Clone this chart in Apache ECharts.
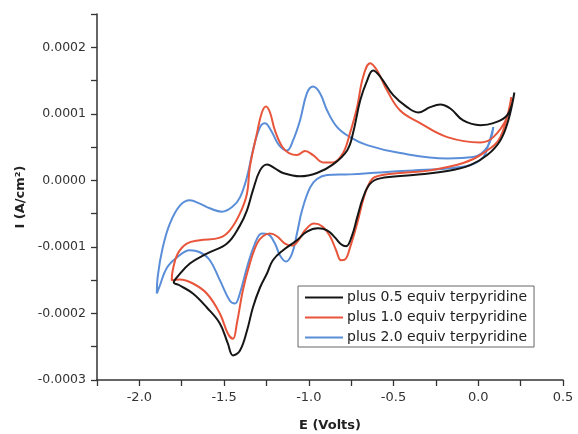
<!DOCTYPE html>
<html>
<head>
<meta charset="utf-8">
<script src="https://cdn.jsdelivr.net/npm/echarts@6/dist/echarts.min.js"></script>
<style>html,body{margin:0;padding:0;background:#fff;}#chart{width:578px;height:434px;}</style>
</head>
<body>
<div id="chart"></div>
<script>
// Potential E (Volts) and current I (in units of 1e-4 A/cm^2), traced around each closed CV loop
const UNIT = 1e-4;
const seriesNames = ['plus 0.5 equiv terpyridine', 'plus 1.0 equiv terpyridine', 'plus 2.0 equiv terpyridine'];

const E_05 = [0.213,0.177,0.130,0.053,-0.047,-0.183,-0.384,-0.579,-0.638,-0.680,-0.715,-0.745,-0.780,-0.810,-0.845,-0.892,-0.946,-1.011,-1.070,-1.152,-1.212,-1.247,-1.288,-1.330,-1.365,-1.407,-1.448,-1.478,-1.525,-1.602,-1.684,-1.761,-1.797,-1.779,-1.702,-1.602,-1.483,-1.407,-1.365,-1.330,-1.288,-1.247,-1.200,-1.152,-1.052,-0.952,-0.857,-0.774,-0.739,-0.697,-0.656,-0.621,-0.579,-0.502,-0.420,-0.355,-0.284,-0.225,-0.165,-0.089,0.012,0.089,0.171,0.213];
const I_05 = [1.32,0.90,0.60,0.38,0.23,0.14,0.08,0.03,-0.05,-0.26,-0.56,-0.83,-0.99,-0.96,-0.86,-0.75,-0.72,-0.77,-0.90,-1.05,-1.20,-1.40,-1.61,-1.91,-2.26,-2.56,-2.63,-2.45,-2.15,-1.91,-1.70,-1.58,-1.53,-1.46,-1.25,-1.10,-0.95,-0.68,-0.45,-0.15,0.15,0.24,0.18,0.11,0.06,0.11,0.24,0.45,0.71,1.20,1.50,1.65,1.56,1.28,1.10,1.02,1.10,1.14,1.08,0.90,0.83,0.86,0.98,1.32];

const E_10 = [0.195,0.130,0.030,-0.089,-0.284,-0.461,-0.609,-0.650,-0.680,-0.715,-0.757,-0.786,-0.810,-0.839,-0.875,-0.922,-0.969,-1.022,-1.058,-1.099,-1.141,-1.188,-1.229,-1.271,-1.306,-1.348,-1.389,-1.424,-1.448,-1.478,-1.525,-1.602,-1.684,-1.761,-1.809,-1.803,-1.773,-1.720,-1.643,-1.525,-1.466,-1.407,-1.365,-1.348,-1.306,-1.277,-1.253,-1.229,-1.200,-1.158,-1.117,-1.070,-1.022,-0.975,-0.916,-0.857,-0.798,-0.757,-0.715,-0.680,-0.638,-0.597,-0.538,-0.461,-0.343,-0.183,0.012,0.089,0.171,0.195];
const I_10 = [1.25,0.65,0.41,0.26,0.15,0.11,0.05,-0.08,-0.30,-0.65,-1.01,-1.19,-1.20,-1.05,-0.84,-0.69,-0.65,-0.75,-0.89,-0.98,-0.95,-0.84,-0.80,-0.84,-0.95,-1.25,-1.65,-2.14,-2.38,-2.30,-2.00,-1.70,-1.55,-1.49,-1.50,-1.35,-1.10,-0.95,-0.90,-0.86,-0.75,-0.50,-0.20,0.20,0.71,1.02,1.11,1.02,0.75,0.51,0.41,0.38,0.44,0.38,0.27,0.27,0.41,0.71,1.10,1.55,1.76,1.65,1.35,1.05,0.86,0.65,0.57,0.65,0.95,1.25];

const E_20 = [0.089,0.059,0.030,-0.047,-0.183,-0.384,-0.579,-0.757,-0.892,-0.952,-0.993,-1.040,-1.070,-1.099,-1.135,-1.170,-1.200,-1.241,-1.277,-1.318,-1.365,-1.407,-1.436,-1.466,-1.525,-1.584,-1.643,-1.702,-1.779,-1.839,-1.879,-1.897,-1.891,-1.862,-1.820,-1.761,-1.702,-1.643,-1.584,-1.513,-1.448,-1.407,-1.365,-1.330,-1.288,-1.259,-1.223,-1.176,-1.129,-1.093,-1.052,-1.011,-0.975,-0.934,-0.892,-0.833,-0.757,-0.656,-0.461,-0.183,-0.030,0.053,0.089];
const I_20 = [0.80,0.53,0.35,0.23,0.18,0.15,0.12,0.09,0.08,0.02,-0.11,-0.45,-0.80,-1.10,-1.22,-1.13,-0.95,-0.81,-0.80,-0.95,-1.31,-1.70,-1.85,-1.81,-1.50,-1.20,-1.08,-1.05,-1.16,-1.32,-1.58,-1.70,-1.43,-1.01,-0.65,-0.38,-0.30,-0.35,-0.42,-0.47,-0.39,-0.26,0.05,0.45,0.80,0.86,0.75,0.53,0.45,0.60,0.90,1.31,1.41,1.31,1.05,0.80,0.65,0.53,0.41,0.33,0.35,0.50,0.80];

const colors = ['#161616', '#e8553a', '#5b8ed8'];

function pairs(E, I) { return E.map((e, i) => [e, I[i] * UNIT]); }

const chart = echarts.init(document.getElementById('chart'), null, { renderer: 'canvas' });
const FONT = 'DejaVu Sans';
const axisColor = '#333';

chart.setOption({
  animation: false,
  backgroundColor: '#fff',
  grid: { left: 97, right: 15, top: 14, bottom: 54, containLabel: false, outerBoundsMode: 'none' },
  legend: {
    orient: 'vertical',
    left: 298, top: 286,
    data: seriesNames,
    icon: 'rect',
    borderColor: '#666', borderWidth: 1,
    padding: [4, 7, 2, 7],
    itemWidth: 38, itemHeight: 2, itemGap: 5,
    textStyle: { fontFamily: FONT, fontSize: 14, color: '#222', lineHeight: 15, padding: [0, 0, 0, -1] }
  },
  xAxis: {
    type: 'value',
    min: -2.25, max: 0.5, interval: 0.25,
    name: 'E (Volts)', nameLocation: 'middle', nameGap: 39,
    nameTextStyle: { fontFamily: FONT, fontSize: 13, fontWeight: 'bold', color: '#222' },
    axisLine: { onZero: false, lineStyle: { color: axisColor, width: 1.5 } },
    axisTick: { show: true, inside: false, length: 6, lineStyle: { color: axisColor, width: 1.3 } },
    splitLine: { show: false },
    axisLabel: {
      fontFamily: FONT, fontSize: 13, color: '#333', margin: 11,
      formatter: function (v) {
        const k = v / 0.5;
        return Math.abs(k - Math.round(k)) < 1e-6 ? v.toFixed(1) : '';
      }
    }
  },
  yAxis: {
    type: 'value',
    min: -0.0003, max: 0.00025, interval: 0.00005,
    name: 'I (A/cm²)', nameLocation: 'middle', nameGap: 63, nameRotate: 90,
    nameTextStyle: { fontFamily: FONT, fontSize: 13, fontWeight: 'bold', color: '#222' },
    axisLine: { onZero: false, lineStyle: { color: axisColor, width: 1.5 } },
    axisTick: { show: true, inside: false, length: 6, lineStyle: { color: axisColor, width: 1.3 } },
    splitLine: { show: false },
    axisLabel: {
      fontFamily: FONT, fontSize: 12.5, color: '#333', margin: 11,
      formatter: function (v) {
        const k = v / 0.0001;
        return Math.abs(k - Math.round(k)) < 1e-6 ? (Math.round(k) * 0.0001).toFixed(4) : '';
      }
    }
  },
  series: [
    { name: seriesNames[0], data: pairs(E_05, I_05) },
    { name: seriesNames[1], data: pairs(E_10, I_10) },
    { name: seriesNames[2], data: pairs(E_20, I_20) }
  ].map((s, i) => Object.assign(s, {
    type: 'line',
    smooth: 0.4,
    symbol: 'none',
    color: colors[i],
    lineStyle: { color: colors[i], width: 2 },
    z: 3 - i
  }))
});
</script>
</body>
</html>
